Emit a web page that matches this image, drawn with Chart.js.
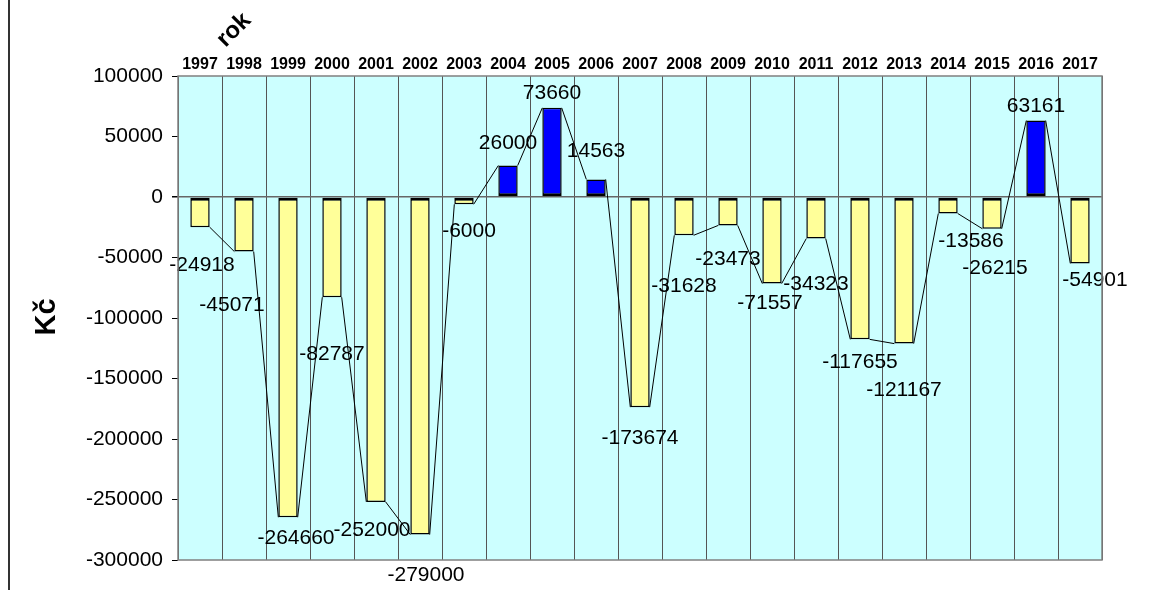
<!DOCTYPE html>
<html>
<head>
<meta charset="utf-8">
<script src="https://cdn.jsdelivr.net/npm/chart.js@4/dist/chart.umd.min.js"></script>
<style>
  html, body { margin: 0; padding: 0; background: #fff; }
  #wrap { width: 1172px; height: 590px; }
</style>
</head>
<body>
<div id="wrap"><canvas id="chart-balance" width="1172" height="590"></canvas></div>
<script>
  // saldo po letech (Kč)
  const years = [
    "1997", "1998", "1999", "2000", "2001", "2002", "2003", "2004", "2005", "2006", "2007",
    "2008", "2009", "2010", "2011", "2012", "2013", "2014", "2015", "2016", "2017",
  ];
  const balance = [
    -24918, -45071, -264660, -82787, -252000, -279000, -6000, 26000, 73660, 14563, -173674,
    -31628, -23473, -71557, -34323, -117655, -121167, -13586, -26215, 63161, -54901,
  ];
  const yMin = -300000;
  const yMax = 100000;
  const yStep = 50000;
  const xTitle = "rok";
  const yTitle = "Kč";

  const fontFamily = "'Liberation Sans', Arial, sans-serif";

  // label placement nudges (px) relative to the value end of each bar, like Excel put them
  const labelNudge = [
    [2, 38], [-12, 54], [8, 21], [0, 57], [-4, 28], [6, 41], [5, 27], [0, -22], [0, -15], [0, -28], [0, 31],
    [0, 51], [0, 34], [-2, 20], [0, 46], [0, 23], [0, 47], [23, 28], [3, 39], [0, -14], [15, 17],
  ];

  const plotFrame = {
    id: "plotFrame",
    beforeDraw(chart) {
      const { ctx, chartArea } = chart;
      ctx.save();
      ctx.fillStyle = "#ccffff";
      ctx.fillRect(chartArea.left, chartArea.top, chartArea.right - chartArea.left, chartArea.bottom - chartArea.top);
      ctx.restore();
    },
    afterDraw(chart) {
      const { ctx, chartArea } = chart;
      ctx.save();
      ctx.strokeStyle = "#808080";
      ctx.lineWidth = 1.5;
      ctx.strokeRect(chartArea.left, chartArea.top, chartArea.right - chartArea.left, chartArea.bottom - chartArea.top);
      // left frame of the chart object
      ctx.strokeStyle = "#333";
      ctx.lineWidth = 2;
      ctx.beginPath();
      ctx.moveTo(9, 0);
      ctx.lineTo(9, chart.height);
      ctx.stroke();
      // axis titles
      ctx.fillStyle = "#000";
      ctx.textAlign = "center";
      ctx.textBaseline = "middle";
      ctx.font = "bold 24px " + fontFamily;
      ctx.translate(234, 30);
      ctx.rotate(-Math.PI / 4);
      ctx.fillText(xTitle, 0, 0);
      ctx.setTransform(1, 0, 0, 1, 0, 0);
      ctx.font = "bold 29px " + fontFamily;
      ctx.translate(47, 317);
      ctx.rotate(-Math.PI / 2);
      ctx.fillText(yTitle, 0, 0);
      ctx.restore();
    },
  };

  const cornerLine = {
    id: "cornerLine",
    afterDatasetsDraw(chart) {
      const { ctx } = chart;
      const bars = chart.getDatasetMeta(0).data;
      ctx.save();
      ctx.strokeStyle = "#000";
      ctx.lineWidth = 1;
      ctx.beginPath();
      for (let i = 0; i < bars.length - 1; i++) {
        const a = bars[i];
        const b = bars[i + 1];
        ctx.moveTo(a.x + a.width / 2, a.y);
        ctx.lineTo(b.x - b.width / 2, b.y);
      }
      ctx.stroke();

      ctx.fillStyle = "#000";
      ctx.font = "21px " + fontFamily;
      ctx.textAlign = "center";
      ctx.textBaseline = "middle";
      bars.forEach((bar, i) => {
        const n = labelNudge[i] || [0, 0];
        ctx.fillText(String(balance[i]), bar.x + n[0], bar.y + n[1]);
      });
      ctx.restore();
    },
  };

  new Chart(document.getElementById("chart-balance"), {
    type: "bar",
    data: {
      labels: years,
      datasets: [
        {
          label: "Kč",
          data: balance,
          backgroundColor: balance.map((v) => (v >= 0 ? "#0000ff" : "#ffff99")),
          borderColor: "#000",
          borderWidth: balance.map((v) =>
            v >= 0
              ? { top: 1.5, left: 1.5, right: 1.5, bottom: 3 }
              : { top: 3, left: 1.5, right: 1.5, bottom: 1.5 }
          ),
          borderSkipped: false,
          barPercentage: 0.44,
          categoryPercentage: 1,
        },
      ],
    },
    options: {
      responsive: false,
      animation: false,
      devicePixelRatio: 1,
      layout: { padding: { left: 0, top: 0, right: 70, bottom: 30 } },
      plugins: {
        legend: { display: false },
        tooltip: { enabled: false },
      },
      scales: {
        x: {
          position: "top",
          afterFit(scale) {
            scale.height = 76;
          },
          border: { display: false },
          grid: {
            offset: true,
            color: "#555",
            lineWidth: 1,
            drawTicks: false,
          },
          ticks: {
            color: "#000",
            font: { family: fontFamily, size: 16, weight: "bold" },
            padding: 2,
            maxRotation: 0,
            autoSkip: false,
          },
        },
        y: {
          min: yMin,
          max: yMax,
          afterFit(scale) {
            scale.width = 178;
          },
          border: { display: false },
          grid: {
            color: (ctx) => (ctx.tick && ctx.tick.value === 0 ? "#666" : "rgba(0,0,0,0)"),
            lineWidth: (ctx) => (ctx.tick && ctx.tick.value === 0 ? 1.5 : 1),
            tickColor: "#000",
            tickLength: 6,
          },
          ticks: {
            stepSize: yStep,
            color: "#000",
            padding: 9,
            font: { family: fontFamily, size: 21 },
            callback: (v) => String(v),
          },
        },
      },
    },
    plugins: [plotFrame, cornerLine],
  });
</script>
</body>
</html>
